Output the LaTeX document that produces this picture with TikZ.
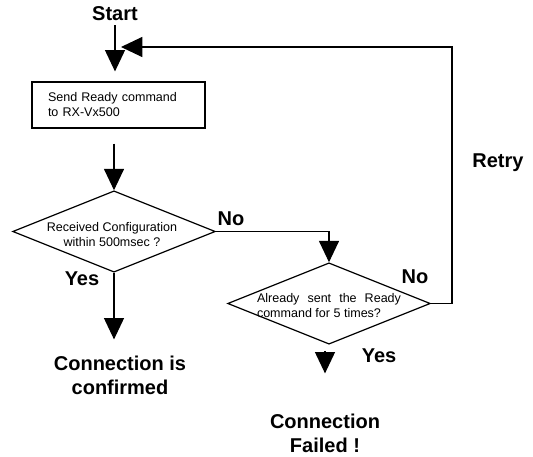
\documentclass[tikz,border=0pt]{standalone}
\usepackage{fontspec}
\setmainfont{Liberation Sans}
\usetikzlibrary{arrows.meta,shapes.geometric}

\tikzset{
  flowline/.style={line width=0.9pt, -{Triangle[width=15pt,length=16pt]}},
  stepbox/.style={draw, line width=0.9pt, text width=105.75pt, inner xsep=12pt,
    minimum height=34.5pt, align=left, font=\fontsize{9.4}{11.25}\selectfont},
  decision/.style={draw, diamond, line width=0.9pt, inner sep=0pt,
    minimum width=152pt, minimum height=61pt},
  asktext/.style={inner sep=0pt, font=\fontsize{9.4}{11.25}\selectfont},
  bigtext/.style={inner sep=0pt, align=center, font=\fontsize{15}{18}\bfseries}
}

\begin{document}
\begin{tikzpicture}[x=0.75pt, y=-0.75pt]
    \useasboundingbox (0,0) rectangle (533,457);
    % Draw steps
    \node [bigtext] (start) at (115,14) {Start};
    \node [stepbox] (send) at (118.5,105) {Send Ready command\\to RX-Vx500};
    \node [decision] (ask1) at (114,231.5) {};
    \node [asktext, align=center] (ask1t) at (112,235) {Received Configuration\\within 500msec ?};
    \node [decision] (ask2) at (329,303.5) {};
    \node [asktext, text width=108pt, align=justify] (ask2t) at (329,305.5) {Already sent the Ready command for 5 times?};
    \node [bigtext] (confirmed) at (120,375) {Connection is\\confirmed};
    \node [bigtext] (failed) at (325,433) {Connection\\Failed !};
    \coordinate (retry) at (452,47);

    % Draw labels
    \node [bigtext] (no1) at (231,219) {No};
    \node [bigtext] (yes1) at (82,279) {Yes};
    \node [bigtext] (no2) at (415,277) {No};
    \node [bigtext] (yes2) at (379,356) {Yes};
    \node [bigtext] (lretry) at (498,163) {Retry};

    % Draw connectors
    \draw [flowline, shorten <=3pt, shorten >=7.5pt] (start) -- (start |- send.north);
    \draw [flowline, shorten <=11.25pt] (ask1 |- send.south) -- (ask1.north);
    \draw [flowline] (ask1.east) -| (ask2.north);
    \draw [flowline, shorten >=12pt] (ask1.south) -- (ask1.south |- confirmed.north);
    \draw [flowline, shorten <=4.5pt, shorten >=30pt] (failed.north |- ask2.south) -- (failed.north);
    \draw [flowline, shorten >=4.5pt] (ask2.east) -| (retry) -- (retry -| start);
\end{tikzpicture}
\end{document}
